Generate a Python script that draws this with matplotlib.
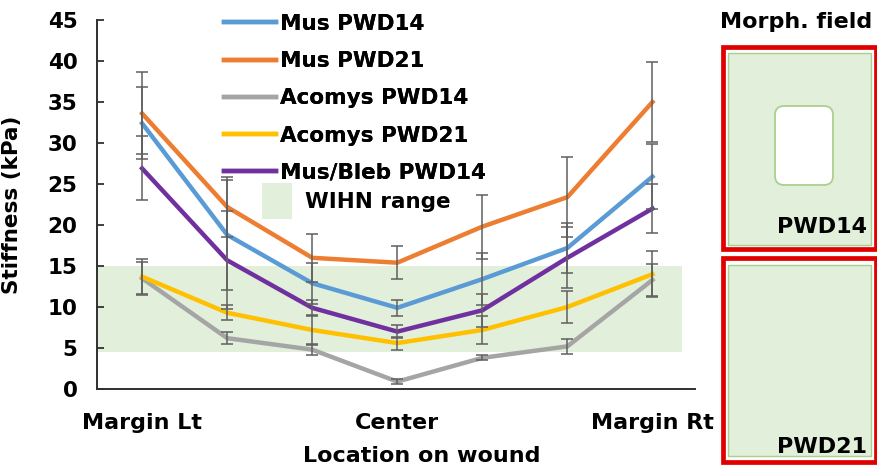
import matplotlib
matplotlib.use("Agg")
import matplotlib.pyplot as plt
from matplotlib.lines import Line2D
from matplotlib.patches import Rectangle, Patch, FancyBboxPatch
from matplotlib.transforms import IdentityTransform

# ---------------- data ----------------
positions = [0, 1, 2, 3, 4, 5, 6]
tick_positions = [0, 3, 6]
tick_labels = ["Margin Lt", "Center", "Margin Rt"]

series_names = ["Mus PWD14", "Mus PWD21", "Acomys PWD14", "Acomys PWD21", "Mus/Bleb PWD14"]
series_colors = ["#5B9BD5", "#ED7D31", "#A5A5A5", "#FFC000", "#7030A0"]

mus14 = [32.4, 18.8, 12.9, 9.9, 13.4, 17.2, 25.9]
mus14_err = [4.4, 6.7, 2.5, 1.0, 3.2, 3.0, 4.0]
mus21 = [33.6, 22.2, 16.0, 15.4, 19.8, 23.4, 35.0]
mus21_err = [5.0, 3.7, 2.9, 2.0, 3.9, 4.9, 4.9]
acomys14 = [13.5, 6.2, 4.8, 0.9, 3.8, 5.2, 13.3]
acomys14_err = [2.0, 0.7, 0.7, 0.3, 0.3, 0.9, 2.0]
acomys21 = [13.7, 9.3, 7.2, 5.6, 7.2, 10.0, 14.0]
acomys21_err = [2.1, 0.9, 1.8, 0.8, 1.7, 1.9, 2.8]
bleb14 = [26.9, 15.7, 9.9, 7.0, 9.6, 16.0, 22.0]
bleb14_err = [3.9, 6.0, 1.0, 0.8, 2.0, 3.7, 3.0]

wihn_low, wihn_high = 4.5, 15.0
wihn_x = [-0.53, 6.35]

values = [mus14, mus21, acomys14, acomys21, bleb14]
errors = [mus14_err, mus21_err, acomys14_err, acomys21_err, bleb14_err]

# ---------------- figure ----------------
W, H = 877, 475
plt.rcParams['font.family'] = ['DejaVu Sans']
plt.rcParams['font.weight'] = 'bold'
fig = plt.figure(figsize=(W / 100, H / 100), dpi=100)
fig.patch.set_facecolor("white")

ax_l, ax_r, ax_t, ax_b = 97, 695, 20, 389
ax = fig.add_axes([ax_l / W, 1 - ax_b / H, (ax_r - ax_l) / W, (ax_b - ax_t) / H])

ax.fill_between(wihn_x, [wihn_low] * 2, [wihn_high] * 2, color="#E2EFDA", lw=0, zorder=0)

for vals, errs, col in zip(values, errors, series_colors):
    ax.plot(positions, vals, color=col, lw=3.2, solid_joinstyle="miter", zorder=2)
for vals, errs, col in zip(values, errors, series_colors):
    ax.errorbar(positions, vals, yerr=errs, fmt="none", ecolor="#5F5F5F",
                elinewidth=1.1, capsize=4.2, capthick=1.1, zorder=3)

ax.set_xlim(-0.53, 6.5)
ax.set_ylim(0, 45)
ax.set_yticks(range(0, 46, 5))
ax.set_xticks(tick_positions)
ax.set_xticklabels(tick_labels, fontsize=16, fontweight="bold")
ax.tick_params(axis="x", length=0, pad=17)
ax.tick_params(axis="y", direction="in", length=5, width=1.3, pad=14, labelsize=15.5, color="#303030")
for lab in ax.get_yticklabels():
    lab.set_fontweight("bold")
for s in ["top", "right"]:
    ax.spines[s].set_visible(False)
for s in ["left", "bottom"]:
    ax.spines[s].set_linewidth(1.4)
    ax.spines[s].set_color("#303030")

ax.set_ylabel("Stiffness (kPa)", fontsize=15.5, fontweight="bold")
ax.set_xlabel("Location on wound", fontsize=16, fontweight="bold")
ax.xaxis.set_label_coords((422 - ax_l) / (ax_r - ax_l), -0.155)
ax.yaxis.set_label_coords(-0.125, 0.5)

# legend for lines
handles = [Line2D([0], [0], color=c, lw=3.2) for c in series_colors]
leg1 = fig.legend(handles, series_names, loc="upper left",
                  bbox_to_anchor=(224 / W, 1 - 14 / H), frameon=False,
                  borderpad=0, borderaxespad=0, handlelength=2.4, handletextpad=0.2,
                  labelspacing=0.8, prop={"size": 15.5, "weight": "bold"})
leg2 = fig.legend([Patch(facecolor="#E2EFDA", edgecolor="none")], ["WIHN range"],
                  loc="upper left", bbox_to_anchor=(262 / W, 1 - 183 / H), frameon=False,
                  borderpad=0, borderaxespad=0, handlelength=1.4, handleheight=2.2,
                  handletextpad=0.6, prop={"size": 15.5, "weight": "bold"})
fig.add_artist(leg1)

# ---------------- right panel ----------------
ID = IdentityTransform()


def rect(x0, y0, x1, y1, **kw):
    r = Rectangle((x0, H - y1), x1 - x0, y1 - y0, transform=ID, **kw)
    fig.add_artist(r)


red = "#E00000"
for (ry0, ry1, gy0, gy1) in [(47, 249, 53, 245), (258, 462, 265, 456)]:
    rect(723, ry0, 875.5, ry1, facecolor="white", edgecolor=red, lw=3.4)
    rect(728, gy0, 871, gy1, facecolor="#E2EFDA", edgecolor="#A9D08E", lw=1.0)

rb = FancyBboxPatch((775, H - 185), 58, 79, boxstyle="round,pad=0,rounding_size=9",
                    transform=ID, facecolor="white", edgecolor="#A9D08E", lw=1.3)
fig.add_artist(rb)

fig.text(720 / W, 1 - 22 / H, "Morph. field", fontsize=16, fontweight="bold",
         va="center", ha="left")
fig.text(822 / W, 1 - 227 / H, "PWD14", fontsize=16, fontweight="bold", va="center", ha="center")
fig.text(822 / W, 1 - 447 / H, "PWD21", fontsize=16, fontweight="bold", va="center", ha="center")

fig.savefig("out.png", dpi=100)
